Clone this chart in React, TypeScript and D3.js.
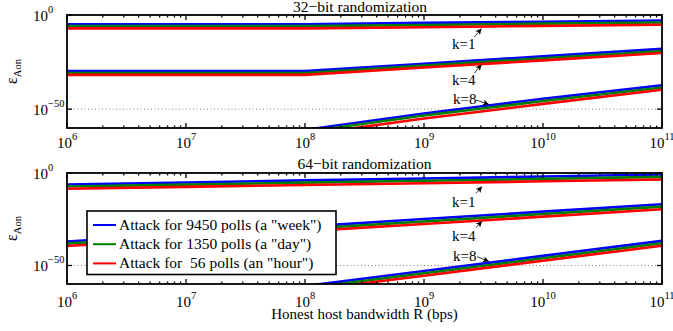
import * as d3 from 'd3';
import {useEffect, useRef} from 'react';

const width = 673;
const height = 331;
const font = '"Liberation Serif", "Times New Roman", serif';

// log10 of honest host bandwidth R (bps)
const bandwidthExp = [6, 7, 8, 9, 10, 11];

const attackNames = [
  'Attack for 9450 polls (a "week")',
  'Attack for 1350 polls (a "day")',
  'Attack for  56 polls (an "hour")',
];
const attackColors = ['#0000ff', '#008000', '#ff0000'];

const xTickExp = [6, 7, 8, 9, 10, 11];
const yTickExp = [0, -50];
const panelTitles = ['32\u2212bit randomization', '64\u2212bit randomization'];

// log10 of eps_Aon, 32-bit randomization
const r32k1Week = [-4.9, -4.9, -4.9, -4.2, -3.6, -2.9];
const r32k1Day = [-5.9, -5.9, -5.9, -5.3, -4.6, -4.0];
const r32k1Hour = [-7.1, -7.1, -7.1, -6.5, -5.8, -5.2];
const r32k4Week = [-29.8, -29.8, -29.8, -25.9, -21.9, -18.0];
const r32k4Day = [-30.8, -30.8, -30.8, -26.9, -23.0, -19.1];
const r32k4Hour = [-31.8, -31.8, -31.8, -27.9, -24.1, -20.2];
const r32k8Week = [-61.0, -61.0, -61.0, -52.3, -44.5, -37.3];
const r32k8Day = [-62.0, -62.0, -62.0, -53.4, -45.7, -38.5];
const r32k8Hour = [-63.6, -63.6, -63.6, -55.0, -47.2, -39.7];

// log10 of eps_Aon, 64-bit randomization
const r64k1Week = [-6.2, -5.1, -4.0, -3.0, -1.9, -0.8];
const r64k1Day = [-7.3, -6.3, -5.2, -4.2, -3.2, -2.1];
const r64k1Hour = [-8.5, -7.5, -6.5, -5.5, -4.5, -3.5];
const r64k4Week = [-37.0, -33.0, -29.0, -24.9, -20.9, -16.9];
const r64k4Day = [-38.2, -34.2, -30.2, -26.2, -22.2, -18.2];
const r64k4Hour = [-39.5, -35.5, -31.5, -27.6, -23.6, -19.6];
const r64k8Week = [-77.4, -69.3, -61.1, -53.0, -44.8, -36.7];
const r64k8Day = [-78.5, -70.4, -62.3, -54.2, -46.1, -38.0];
const r64k8Hour = [-79.8, -71.7, -63.6, -55.5, -47.4, -39.3];

// annotation text position and arrow [tailX, tailY, headX, headY], in log10 units
const kLabels = ['k=1', 'k=4', 'k=8'];
const r32Notes = [
  {x: 9.235, y: -18.1, arrow: [9.424, -11.7, 9.483, -7.2]},
  {x: 9.235, y: -37.2, arrow: [9.424, -30.8, 9.483, -26.3]},
  {x: 9.244, y: -47.3, arrow: [9.437, -45.1, 9.546, -47.5]},
];
const r64Notes = [
  {x: 9.235, y: -18.6, arrow: [9.437, -11.0, 9.487, -7.3]},
  {x: 9.235, y: -36.9, arrow: [9.437, -29.6, 9.487, -26.1]},
  {x: 9.244, y: -47.3, arrow: [9.446, -45.2, 9.546, -47.8]},
];

const panels = [
  {
    top: 15,
    bottom: 128,
    labelGap: 20,
    titleX: 360,
    titleGap: 3,
    series: [
      [r32k1Week, r32k1Day, r32k1Hour],
      [r32k4Week, r32k4Day, r32k4Hour],
      [r32k8Week, r32k8Day, r32k8Hour],
    ],
    notes: r32Notes,
  },
  {
    top: 173,
    bottom: 284,
    labelGap: 23,
    titleX: 364.5,
    titleGap: 4,
    series: [
      [r64k1Week, r64k1Day, r64k1Hour],
      [r64k4Week, r64k4Day, r64k4Hour],
      [r64k8Week, r64k8Day, r64k8Hour],
    ],
    notes: r64Notes,
  },
];

function App() {
  const refContainer = useRef<HTMLDivElement>(null);

  useEffect(() => {
    const svg = d3
      .select(refContainer.current)
      .append('svg')
      .attr('width', width)
      .attr('height', height)
      .style('position', 'absolute')
      .style('left', '0px')
      .style('top', '0px')
      .style('background', '#fff')
      .style('font-family', font);

    const defs = svg.append('defs');
    defs
      .append('marker')
      .attr('id', 'head')
      .attr('viewBox', '0 0 10 10')
      .attr('refX', 10)
      .attr('refY', 5)
      .attr('markerWidth', 7)
      .attr('markerHeight', 6)
      .attr('markerUnits', 'userSpaceOnUse')
      .attr('orient', 'auto')
      .append('path')
      .attr('d', 'M0,0L10,5L0,10L2.5,5z')
      .attr('fill', '#000');

    const xScale = d3.scaleLog().domain([1e6, 1e11]).range([67, 662]);
    const [x0, x1] = xScale.range();

    panels.forEach((p, i) => {
      const yScale = d3.scaleLog().domain([1e-60, 1]).range([p.bottom, p.top]);
      const g = svg.append('g');

      defs
        .append('clipPath')
        .attr('id', `clip${i}`)
        .append('rect')
        .attr('x', x0)
        .attr('y', p.top)
        .attr('width', x1 - x0)
        .attr('height', p.bottom - p.top);

      // dotted grid at 10^-50
      g.append('line')
        .attr('x1', x0)
        .attr('x2', x1)
        .attr('y1', yScale(1e-50))
        .attr('y2', yScale(1e-50))
        .attr('stroke', '#666')
        .attr('stroke-width', 0.8)
        .attr('stroke-dasharray', '1,2.5');

      const line = d3
        .line<number>()
        .x((d, j) => xScale(10 ** bandwidthExp[j]))
        .y(d => yScale(10 ** d));

      const plot = g.append('g').attr('clip-path', `url(#clip${i})`);
      p.series.forEach(group => {
        group.forEach((vals, c) => {
          plot
            .append('path')
            .datum(vals)
            .attr('fill', 'none')
            .attr('stroke', attackColors[c])
            .attr('stroke-width', 2.6)
            .attr('d', line);
        });
      });

      // frame
      g.append('rect')
        .attr('x', x0)
        .attr('y', p.top)
        .attr('width', x1 - x0)
        .attr('height', p.bottom - p.top)
        .attr('fill', 'none')
        .attr('stroke', '#000')
        .attr('stroke-width', 1.8);

      // x ticks, major and minor, top and bottom
      const minor: number[] = [];
      xTickExp.slice(0, -1).forEach(e => {
        for (let m = 2; m < 10; m++) minor.push(m * 10 ** e);
      });
      const tick = (v: number, len: number) => {
        const xx = xScale(v);
        g.append('line')
          .attr('x1', xx).attr('x2', xx)
          .attr('y1', p.bottom).attr('y2', p.bottom - len)
          .attr('stroke', '#000').attr('stroke-width', 1.3);
        g.append('line')
          .attr('x1', xx).attr('x2', xx)
          .attr('y1', p.top).attr('y2', p.top + len)
          .attr('stroke', '#000').attr('stroke-width', 1.3);
      };
      minor.forEach(v => tick(v, 2.5));
      xTickExp.forEach(e => tick(10 ** e, 5));

      yTickExp.forEach(e => {
        const yy = yScale(10 ** e);
        g.append('line')
          .attr('x1', x0).attr('x2', x0 + 5)
          .attr('y1', yy).attr('y2', yy)
          .attr('stroke', '#000').attr('stroke-width', 1.3);
        g.append('line')
          .attr('x1', x1).attr('x2', x1 - 5)
          .attr('y1', yy).attr('y2', yy)
          .attr('stroke', '#000').attr('stroke-width', 1.3);

        const t = g.append('text')
          .attr('x', 33)
          .attr('y', yy + 5.5)
          .attr('font-size', 15)
          .attr('fill', '#000');
        t.append('tspan').text('10');
        t.append('tspan')
          .attr('dy', -8)
          .attr('font-size', 10.5)
          .text(e < 0 ? `\u2212${-e}` : `${e}`);
      });

      xTickExp.forEach(e => {
        const t = g.append('text')
          .attr('x', xScale(10 ** e))
          .attr('y', p.bottom + p.labelGap)
          .attr('text-anchor', 'middle')
          .attr('font-size', 15)
          .attr('fill', '#000');
        t.append('tspan').text('10');
        t.append('tspan')
          .attr('dy', -8)
          .attr('font-size', 10.5)
          .text(`${e}`);
      });

      // y label
      const yl = g.append('text')
        .attr('transform', `translate(17,${(p.top + p.bottom) / 2}) rotate(-90)`)
        .attr('text-anchor', 'middle')
        .attr('font-size', 16)
        .attr('fill', '#000');
      yl.append('tspan').text('\u03b5');
      yl.append('tspan').attr('dy', 4).attr('font-size', 10.5).text('Aon');

      // title
      g.append('text')
        .attr('x', p.titleX)
        .attr('y', p.top - p.titleGap)
        .attr('text-anchor', 'middle')
        .attr('font-size', 15.5)
        .attr('fill', '#000')
        .text(panelTitles[i]);

      // k annotations
      p.notes.forEach((n, k) => {
        g.append('text')
          .attr('x', xScale(10 ** n.x))
          .attr('y', yScale(10 ** n.y))
          .attr('font-size', 15)
          .attr('fill', '#000')
          .text(kLabels[k]);
        const [ax, ay, bx, by] = n.arrow;
        g.append('line')
          .attr('x1', xScale(10 ** ax))
          .attr('y1', yScale(10 ** ay))
          .attr('x2', xScale(10 ** bx))
          .attr('y2', yScale(10 ** by))
          .attr('stroke', '#000')
          .attr('stroke-width', 0.8)
          .attr('marker-end', 'url(#head)');
      });
    });

    // legend in the lower panel
    const lg = svg.append('g').attr('transform', 'translate(87,211)');
    lg.append('rect')
      .attr('width', 249)
      .attr('height', 63.5)
      .attr('fill', '#fff')
      .attr('stroke', '#000')
      .attr('stroke-width', 1.6);
    attackNames.forEach((name, c) => {
      const yy = 14 + c * 19.2;
      lg.append('line')
        .attr('x1', 6).attr('x2', 29)
        .attr('y1', yy).attr('y2', yy)
        .attr('stroke', attackColors[c])
        .attr('stroke-width', 2);
      lg.append('text')
        .attr('x', 32)
        .attr('y', yy + 5)
        .attr('font-size', 15.5)
        .attr('fill', '#000')
        .style('white-space', 'pre')
        .text(name);
    });

    svg.append('text')
      .attr('x', (x0 + x1) / 2)
      .attr('y', 319)
      .attr('text-anchor', 'middle')
      .attr('font-size', 15)
      .attr('fill', '#000')
      .text('Honest host bandwidth R (bps)');

    return () => {
      svg.remove();
    };
  }, []);

  return <div ref={refContainer}></div>;
}

export default App;
